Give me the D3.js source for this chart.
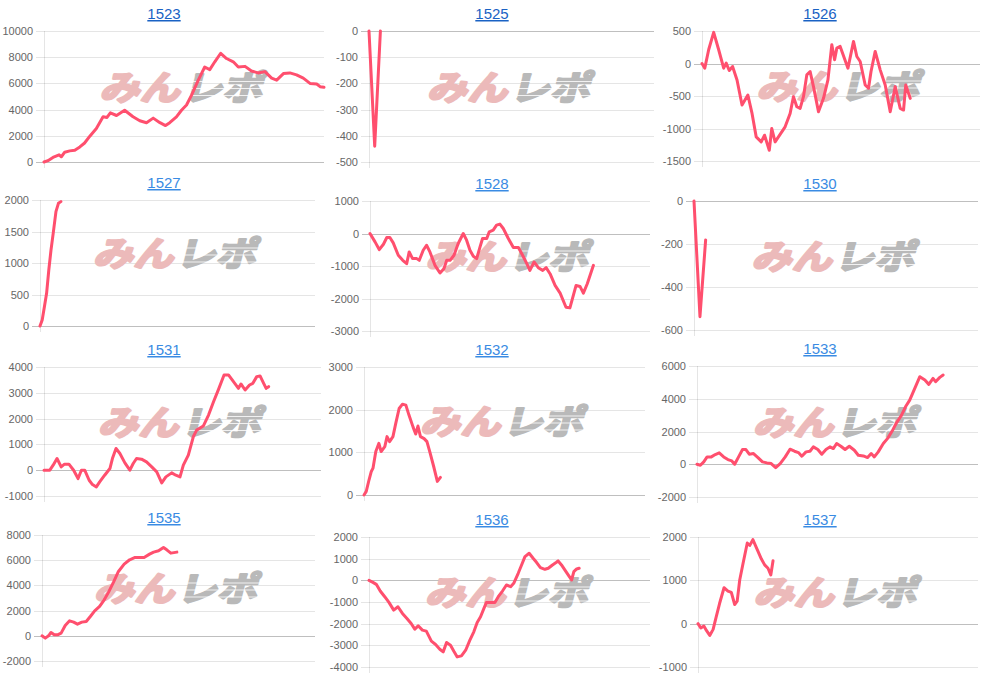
<!DOCTYPE html>
<html>
<head>
  <meta charset="utf-8">
  <script src="https://d3js.org/d3.v7.min.js"></script>
  <style>
    body { margin: 0; background: #fff; }
    svg { display: block; }
    .tick-label { font-family: "Liberation Sans", Arial, sans-serif; font-size: 11px; fill: #666; }
    .title { font-family: "Liberation Sans", Arial, sans-serif; font-size: 15px; text-decoration: underline; }
  </style>
</head>
<body>
<script>
// --- data: x = position along the axis (0..100), y = value ---
var titles = ["1523", "1525", "1526", "1527", "1528", "1530", "1531", "1532", "1533", "1535", "1536", "1537"];

var s1523 = [[0,0],[1.4,100],[3.2,350],[5.4,550],[6.2,400],[7.4,750],[9.2,850],[11,900],[12.8,1150],[14.5,1450],
  [16.3,1950],[18.7,2550],[21.1,3450],[22.5,3400],[23.7,3750],[25.9,3550],[28.8,3950],[31.8,3450],[34.2,3150],
  [36.6,3000],[39,3350],[41.4,3000],[43.4,2780],[44.9,3000],[47.3,3450],[49.1,3950],[50.9,4350],[52.7,5100],
  [55.1,6250],[57.4,7250],[59.2,7050],[61,7650],[63.1,8300],[65.2,7900],[67.6,7650],[69.4,7250],[71.8,7300],
  [74.1,6950],[76.5,6800],[78.9,6900],[81.3,6400],[83.1,6250],[85.5,6750],[87.8,6800],[90.2,6650],[92.6,6400],
  [95,6000],[97.4,5950],[98.6,5750],[100,5700]];
var s1525 = [[0,0],[2,-440],[4,0]];
var s1526 = [[0,0],[1,-72],[2.4,211],[4.2,479],[6,211],[7.8,-72],[8.7,5],[9.8,-108],[11,-46],[12.6,-253],
  [14.4,-639],[16.5,-485],[18,-768],[19.5,-1129],[21.3,-1206],[22.5,-1103],[24.2,-1335],[25.1,-1000],[26.3,-1206],
  [28.7,-1052],[29.9,-974],[31.7,-768],[32.9,-510],[34.1,-665],[35.3,-691],[36.5,-510],[37.7,-175],[38.9,-124],
  [40.1,-356],[41.9,-742],[43.7,-536],[45.3,-253],[46.7,289],[47.7,57],[48.5,237],[49.7,263],[52.5,-72],
  [54.5,340],[55.7,108],[56.9,31],[58.7,-330],[59.9,-381],[60.8,-124],[62.3,186],[64.1,-98],[65.9,-330],
  [67.7,-742],[69.5,-356],[71.3,-691],[72.5,-716],[73.3,-330],[74.9,-536]];
var s1527 = [[0,0],[0.8,95],[1.6,307],[2.4,519],[3.2,889],[4,1206],[4.8,1471],[5.8,1815],[6.7,1947],[7.6,1974]];
var s1528 = [[0,0],[1.8,-258],[3.3,-495],[4.8,-330],[6,-124],[7.1,-124],[8.3,-289],[10.1,-670],[11.7,-825],
  [13.1,-928],[14,-567],[15.2,-773],[16.7,-773],[17.6,-825],[19,-515],[20.2,-361],[21.4,-567],[23.2,-979],
  [25,-1216],[26.4,-1082],[27.4,-825],[28.6,-825],[30,-670],[31.5,-309],[33.3,0],[34.5,-206],[35.7,-515],
  [36.9,-701],[38.1,-773],[39.3,-412],[40.2,-155],[41.7,-155],[42.6,52],[44,103],[45.2,258],[46.4,289],
  [47.6,155],[49.4,-155],[51.2,-433],[53,-433],[54.5,-670],[56,-928],[57.1,-1134],[58.6,-876],[60.1,-1052],
  [61.7,-1134],[62.9,-1052],[64.3,-1237],[66.1,-1598],[67.9,-1835],[70,-2268],[71.4,-2289],[73.6,-1598],
  [75,-1629],[76.2,-1835],[77.6,-1546],[79.8,-979]];
var s1530 = [[0,0],[2.1,-538],[4.1,-181]];
var s1531 = [[0,0],[2.1,0],[3.3,194],[4.7,453],[6.2,130],[7.4,233],[9,233],[10.7,0],[12.3,-324],[13.5,0],
  [14.7,0],[16.3,-389],[17.5,-557],[18.9,-648],[20.1,-453],[21.9,-194],[23.8,65],[24.7,453],[26,842],[27.4,648],
  [29.2,285],[31,0],[32.2,259],[33.4,453],[35.2,427],[37,324],[38.9,130],[40.7,-65],[42.5,-492],[44,-259],
  [46.1,-104],[47.6,-194],[49.1,-259],[50.3,194],[52.1,583],[53.9,1295],[55.1,1554],[57.5,1710],[59.4,2137],
  [61.2,2655],[63,3135],[65,3692],[66.6,3692],[68.4,3433],[70.2,3174],[71.1,3342],[72.6,3109],[74.2,3303],
  [75.4,3368],[76.8,3627],[78,3653],[79.3,3368],[80.2,3174],[81.1,3238]];
var s1532 = [[0,0],[0.8,85],[1.8,357],[2.6,552],[3.2,629],[4.2,1018],[5.3,1212],[6.1,1018],[7.4,1134],
  [8.2,1368],[9.1,1251],[10.3,1368],[11.3,1678],[12.5,2028],[13.7,2129],[14.9,2106],[16,1873],[17.5,1585],
  [18.4,1430],[19.2,1616],[20.1,1368],[21.4,1321],[22.4,1251],[23.4,1018],[24.8,668],[26.1,319],[27.2,412]];
var s1533 = [[0,0],[1.2,-61],[2.4,143],[3.6,449],[5.1,449],[6.5,592],[7.9,694],[9.5,449],[11,286],[12.4,204],
  [13.4,0],[14.8,449],[16.2,898],[17.4,898],[18.6,612],[20.1,653],[21.7,408],[23.3,143],[24.9,82],[26.4,41],
  [28,-204],[29.6,41],[31.4,449],[33.1,918],[34.7,796],[36.1,714],[37.3,490],[38.8,755],[40.2,796],[41.4,1061],
  [43,898],[44.4,612],[45.9,898],[47.3,1061],[48.5,959],[49.7,1265],[51.2,1102],[52.7,898],[54.2,1102],
  [56,857],[57.4,551],[59.2,510],[60.7,408],[62,653],[63.1,449],[64.5,755],[66.3,1265],[68,1612],[69.5,2041],
  [71,2531],[72.8,3000],[74.2,3510],[75.7,3918],[77.5,4633],[79.3,5347],[81.1,5143],[82.5,4878],[84,5245],
  [84.9,5041],[86.4,5306],[87.6,5449]];
var s1535 = [[0,0],[1.2,-185],[2.4,0],[3.3,265],[4.5,79],[5.7,79],[7,212],[8.5,820],[10.1,1190],[11.6,1085],
  [13,926],[14.6,1085],[16.2,1138],[17.7,1534],[19.3,1984],[21.1,2328],[22.8,2857],[24.4,3466],[26.2,4259],
  [28,5106],[30.1,5688],[32.1,6032],[34.1,6217],[35.7,6217],[37.4,6217],[39.4,6481],[40.9,6640],[42.7,6746],
  [44.5,7011],[45.7,6825],[47.2,6561],[49.4,6640]];
var s1536 = [[0,0],[1.4,-93],[2.6,-185],[4,-494],[5.6,-756],[7.1,-1019],[8.8,-1373],[10.3,-1219],[11.9,-1528],
  [13.5,-1759],[15,-1991],[16.3,-2253],[17.5,-2099],[19,-2299],[20.4,-2346],[22.2,-2809],[23.7,-2963],
  [25.2,-3179],[26.4,-3302],[27.6,-2870],[29,-2994],[30.2,-3272],[31.4,-3534],[32.9,-3488],[34.4,-3225],
  [35.9,-2762],[37.3,-2377],[38.5,-1944],[39.7,-1682],[40.9,-1296],[41.8,-1019],[43.2,-1019],[44.8,-1019],
  [46,-756],[47.5,-494],[48.9,-216],[50.4,-293],[51.5,-139],[53.1,324],[54.3,710],[55.5,1096],[57,1250],
  [58.4,1019],[59.6,833],[61,586],[62.6,509],[63.8,556],[65.3,710],[66.7,833],[67.3,895],[68.5,710],[70.1,401],
  [71.3,170],[72.1,15],[72.9,401],[73.9,525],[74.8,556]];
var s1537 = [[0,0],[1,-101],[2.1,-54],[3,-155],[4.2,-271],[5.4,-132],[6.5,155],[7.7,465],[9.3,829],[10.7,752],
  [11.9,721],[13.1,442],[14,519],[14.9,1008],[16.1,1395],[17.6,1860],[18.5,1806],[19.6,1938],[21.2,1705],
  [22.6,1496],[23.8,1357],[25,1279],[26,1124],[26.8,1450]];

var yTicks = [
  [0, 2000, 4000, 6000, 8000, 10000],
  [-500, -400, -300, -200, -100, 0],
  [-1500, -1000, -500, 0, 500],
  [0, 500, 1000, 1500, 2000],
  [-3000, -2000, -1000, 0, 1000],
  [-600, -400, -200, 0],
  [-1000, 0, 1000, 2000, 3000, 4000],
  [0, 1000, 2000, 3000],
  [-2000, 0, 2000, 4000, 6000],
  [-2000, 0, 2000, 4000, 6000, 8000],
  [-4000, -3000, -2000, -1000, 0, 1000, 2000],
  [-1000, 0, 1000, 2000]
];

var series = [s1523, s1525, s1526, s1527, s1528, s1530, s1531, s1532, s1533, s1535, s1536, s1537];

// --- layout: plot boxes [left, top, right, bottom] ---
var boxes = [
  [44, 31, 324, 162], [369, 31, 654, 162], [702, 31, 980, 161],
  [40, 200, 315, 326], [370, 201, 650, 331], [694, 201, 978, 330],
  [44, 367, 321, 496], [364, 367, 645, 495], [697, 366, 978, 497],
  [42, 535, 315, 661], [369, 537, 650, 667], [698, 537, 978, 667]
];
var colCenters = [164, 492, 820];
var titleColors = ["#1a62c4", "#3a8be3", "#3a8be3", "#3a8be3"];

var svg = d3.select("body").append("svg")
    .attr("width", 984)
    .attr("height", 674);

titles.forEach(function(t, i) {
  var b = boxes[i],
      col = i % 3,
      row = Math.floor(i / 3),
      ticks = yTicks[i];

  var x = d3.scaleLinear().domain([0, 100]).range([b[0], b[2]]);
  var y = d3.scaleLinear().domain(d3.extent(ticks)).range([b[3], b[1]]);

  var g = svg.append("g");

  // title (link-looking)
  g.append("text")
    .attr("class", "title")
    .attr("x", colCenters[col])
    .attr("y", b[1] - 12)
    .attr("text-anchor", "middle")
    .style("fill", titleColors[row])
    .text(t);

  // grid lines
  g.selectAll("line.grid")
    .data(ticks)
    .enter().append("line")
    .attr("class", "grid")
    .attr("x1", b[0] - 8)
    .attr("x2", b[2])
    .attr("y1", function(d) { return Math.round(y(d)) + 0.5; })
    .attr("y2", function(d) { return Math.round(y(d)) + 0.5; })
    .attr("stroke", function(d) { return d === 0 ? "rgba(0,0,0,0.25)" : "rgba(0,0,0,0.1)"; })
    .attr("stroke-width", 1);

  // left axis line
  g.append("line")
    .attr("x1", b[0] + 0.5).attr("x2", b[0] + 0.5)
    .attr("y1", b[1]).attr("y2", b[3] + 6)
    .attr("stroke", "rgba(0,0,0,0.1)");

  // tick labels
  g.selectAll("text.tick-label")
    .data(ticks)
    .enter().append("text")
    .attr("class", "tick-label")
    .attr("x", b[0] - 11)
    .attr("y", function(d) { return y(d) + 4; })
    .attr("text-anchor", "end")
    .text(function(d) { return d; });

  // watermark (bold look made with a same-colour stroke)
  var cx = (b[0] + b[2]) / 2,
      cy = (b[1] + b[3]) / 2 - 9;
  var wm = g.append("g")
    .attr("transform", "translate(" + cx + "," + cy + ") skewX(-14) scale(1.18,1)");
  wm.append("text")
    .attr("x", -1)
    .attr("y", 12)
    .attr("text-anchor", "end")
    .style("font-family", "'Noto Sans CJK JP', sans-serif")
    .style("font-weight", "bold")
    .style("font-size", "34px")
    .style("fill", "#ecbaba")
    .style("stroke", "#ecbaba")
    .style("stroke-width", 2.5)
    .style("stroke-linejoin", "round")
    .text("みん");
  wm.append("text")
    .attr("x", 1)
    .attr("y", 12)
    .attr("text-anchor", "start")
    .style("font-family", "'Noto Sans CJK JP', sans-serif")
    .style("font-weight", "bold")
    .style("font-size", "34px")
    .style("fill", "#b9b9b9")
    .style("stroke", "#b9b9b9")
    .style("stroke-width", 2.5)
    .style("stroke-linejoin", "round")
    .text("レポ");
  [-6, 1, 8].forEach(function(dy) {
    wm.append("line")
      .attr("x1", 2).attr("x2", 72)
      .attr("y1", dy).attr("y2", dy)
      .attr("stroke", "#fff")
      .attr("stroke-width", 1.2)
      .attr("opacity", 0.8);
  });

  // line
  var line = d3.line()
    .x(function(d) { return x(d[0]); })
    .y(function(d) { return y(d[1]); });

  g.append("path")
    .datum(series[i])
    .attr("d", line)
    .attr("fill", "none")
    .attr("stroke", "#ff4f6e")
    .attr("stroke-width", 3)
    .attr("stroke-linejoin", "round")
    .attr("stroke-linecap", "round");
});
</script>
</body>
</html>
